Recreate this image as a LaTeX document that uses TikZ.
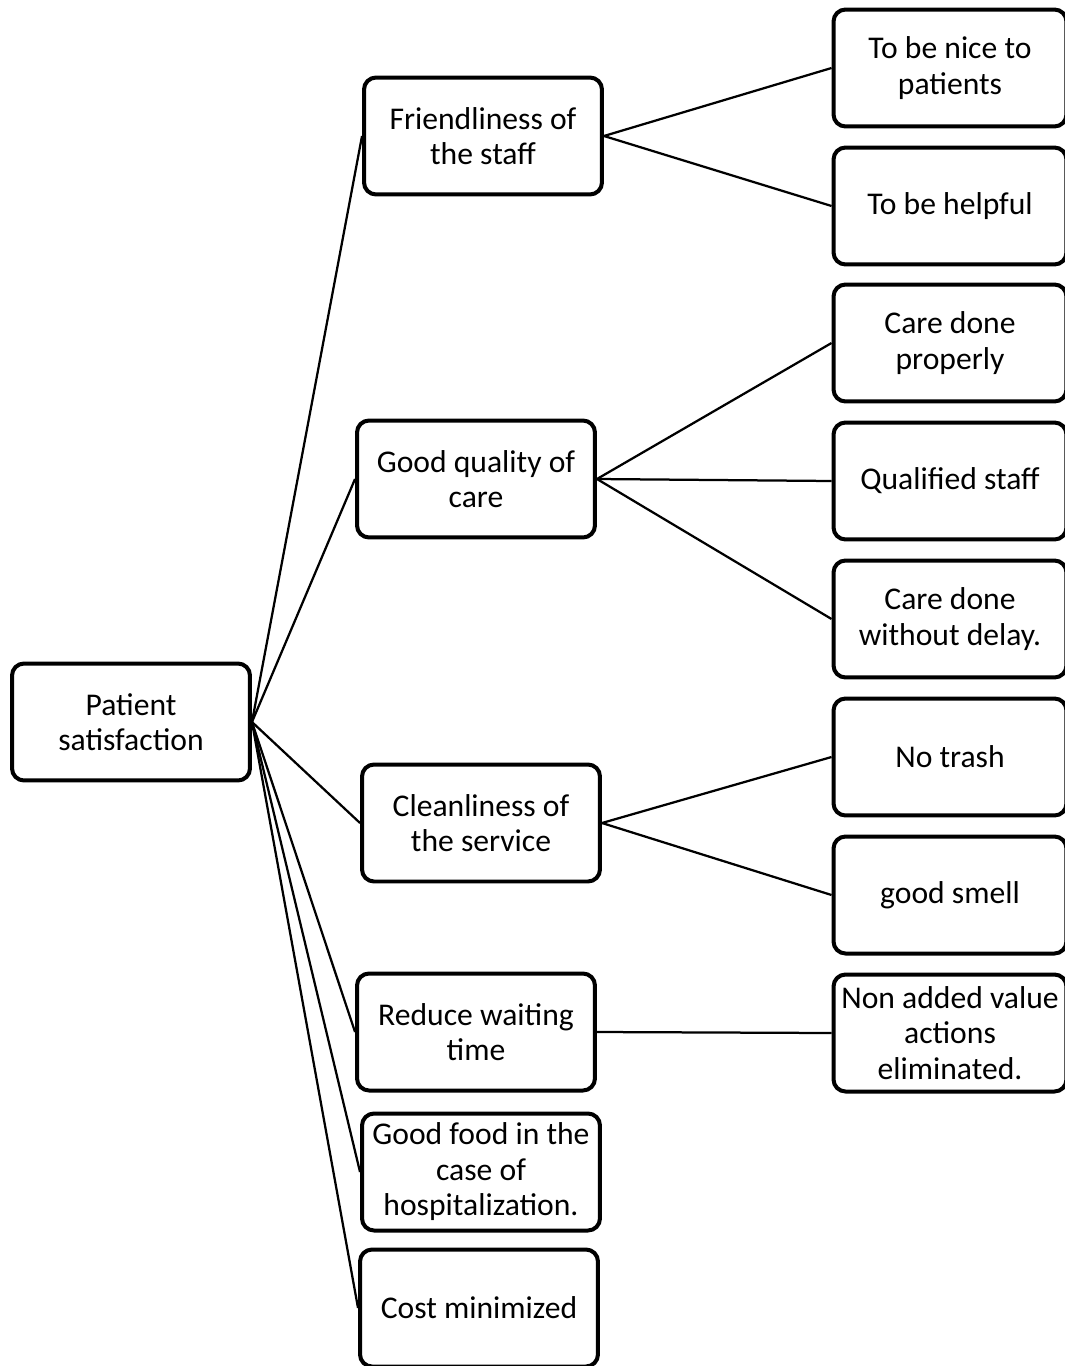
\documentclass[tikz,border=0pt]{standalone}
\usepackage{fontspec}
\setmainfont{Carlito}
\begin{document}
\begin{tikzpicture}[x=0.02cm,y=-0.02cm,
  box/.style={draw=black, line width=0.08cm, rounded corners=0.24cm, fill=white,
    minimum width=4.76cm, minimum height=2.34cm, inner sep=0pt, align=center,
    font=\fontsize{18}{20.2}\selectfont},
  leaf/.style={box, minimum width=4.66cm},
  conn/.style={draw=black, line width=0.045cm}]
\useasboundingbox (0,0) rectangle (1065,1366);
% root
\node[box] (root) at (131,722) {Patient\\satisfaction};
% level 1
\node[box] (fr) at (483,136) {Friendliness of\\the staff};
\node[box] (gq) at (476,479) {Good quality of\\care};
\node[box] (cl) at (481,823) {Cleanliness of\\the service};
\node[box] (rw) at (476,1032) {Reduce waiting\\time};
\node[box] (gf) at (481,1172) {Good food in the\\case of\\hospitalization.};
\node[box] (cm) at (479,1308) {Cost minimized};
% level 2
\node[leaf] (n1) at (950,68) {To be nice to\\patients};
\node[leaf] (n2) at (950,206) {To be helpful};
\node[leaf] (n3) at (950,343) {Care done\\properly};
\node[leaf] (n4) at (950,481) {Qualified staff};
\node[leaf] (n5) at (950,619) {Care done\\without delay.};
\node[leaf] (n6) at (950,757) {No trash};
\node[leaf] (n7) at (950,895) {good smell};
\node[leaf] (n8) at (950,1033) {Non added value\\actions\\eliminated.};
% connectors
\foreach \c in {fr,gq,cl,rw,gf,cm} \draw[conn] (root.east) -- (\c.west);
\draw[conn] (fr.east) -- (n1.west);
\draw[conn] (fr.east) -- (n2.west);
\draw[conn] (gq.east) -- (n3.west);
\draw[conn] (gq.east) -- (n4.west);
\draw[conn] (gq.east) -- (n5.west);
\draw[conn] (cl.east) -- (n6.west);
\draw[conn] (cl.east) -- (n7.west);
\draw[conn] (rw.east) -- (n8.west);
\end{tikzpicture}
\end{document}
